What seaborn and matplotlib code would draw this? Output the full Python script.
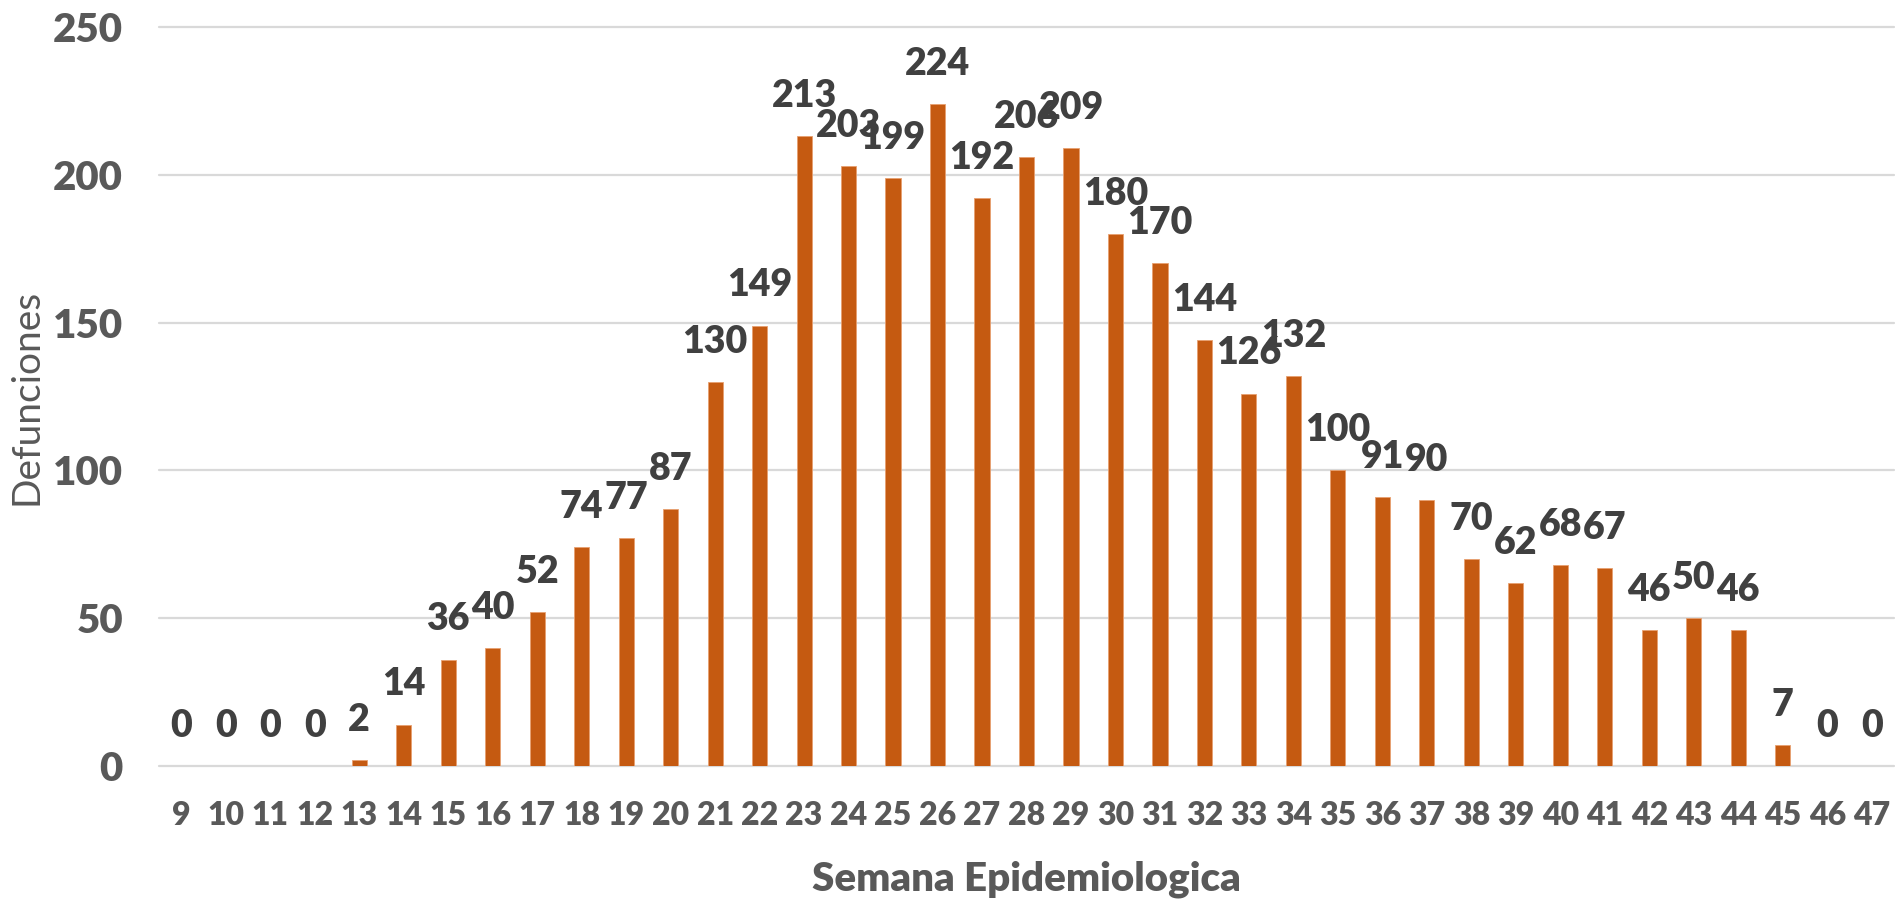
import matplotlib
matplotlib.use("Agg")
import matplotlib.pyplot as plt
import seaborn as sns
import pandas as pd

weeks = [str(w) for w in range(9, 48)]
deaths = [0, 0, 0, 0, 2, 14, 36, 40, 52, 74, 77, 87, 130, 149, 213, 203, 199,
          224, 192, 206, 209, 180, 170, 144, 126, 132, 100, 91, 90, 70, 62, 68,
          67, 46, 50, 46, 7, 0, 0]
y_ticks = [0, 50, 100, 150, 200, 250]
x_title = "Semana Epidemiologica"
y_title = "Defunciones"

sns.set_theme(style="white")
plt.rcParams['font.family'] = ['Lato', 'DejaVu Sans']

df = pd.DataFrame({"week": weeks, "deaths": deaths})

fig = plt.figure(figsize=(18.95, 8.99), dpi=100)
ax = fig.add_axes([159 / 1895, 133 / 899, (1894 - 159) / 1895, (766 - 27) / 899])

sns.barplot(data=df, x="week", y="deaths", color="#C55A11", saturation=1,
            width=0.34, edgecolor="#E8A070", linewidth=0.6, ax=ax, zorder=3)

ax.set_ylim(0, 250)
ax.set_xlim(-0.5, len(weeks) - 0.5)
ax.set_yticks(y_ticks)
ax.yaxis.grid(True, color="#D9D9D9", linewidth=1.6, zorder=0)
ax.set_axisbelow(True)
for s in ax.spines.values():
    s.set_visible(False)
for gl in ax.get_ygridlines():
    gl.set_clip_on(False)

ax.tick_params(axis="y", length=0, pad=26, labelsize=29, labelcolor="#595959")
ax.tick_params(axis="x", length=0, pad=25, labelsize=23, labelcolor="#595959")
for lbl in ax.get_yticklabels() + ax.get_xticklabels():
    lbl.set_fontweight("heavy")

for i, v in enumerate(deaths):
    ax.annotate(str(v), xy=(i, v), xytext=(0, 21), textcoords="offset points",
                ha="center", va="baseline", fontsize=27, fontweight="heavy",
                color="#404040", annotation_clip=False, zorder=4)

ax.set_xlabel(x_title, fontsize=29, fontweight="heavy", color="#595959", labelpad=22)
ax.set_ylabel(y_title, fontsize=28, color="#595959", labelpad=6)

fig.savefig("out.png", dpi=100)
